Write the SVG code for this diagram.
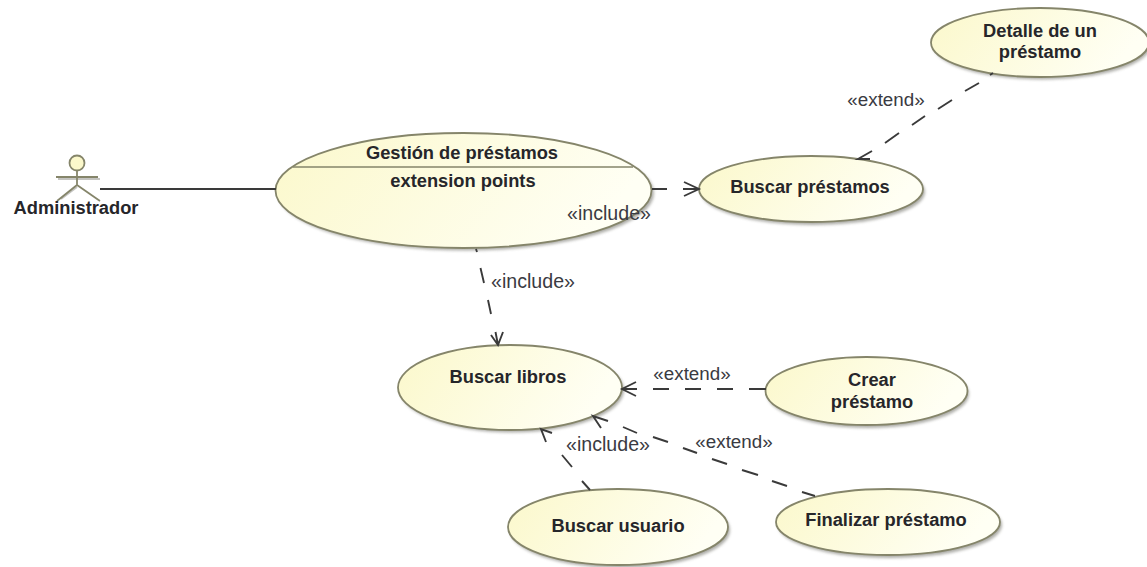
<svg xmlns="http://www.w3.org/2000/svg" width="1147" height="567" viewBox="0 0 1147 567">
<style>
.u{fill:url(#g);stroke:#85856a;stroke-width:1.8}
.s{fill:#77776f;opacity:.6;filter:url(#b)}
.c{fill:none;stroke:#3a3a3a;stroke-width:1.9}
.t{font-family:"Liberation Sans",Arial,sans-serif;font-size:18.3px;font-weight:bold;fill:#26262a;text-anchor:middle}
.i{font-family:"Liberation Sans",Arial,sans-serif;font-size:19.6px;fill:#3a3a42;text-anchor:middle}
.e{font-family:"Liberation Sans",Arial,sans-serif;font-size:18.8px;fill:#3a3a42;text-anchor:middle}
</style>
<defs>
<linearGradient id="g" x1="0" y1="0" x2="1" y2="0.25"><stop offset="0" stop-color="#fbf8cb"/><stop offset="1" stop-color="#fffff4"/></linearGradient>
<filter id="b" x="-10%" y="-10%" width="120%" height="130%"><feGaussianBlur stdDeviation="1.5"/></filter>
</defs>
<rect width="1147" height="567" fill="#fff"/>
<g id="actor">
<path d="M58 179H100M61 199L77 187" fill="none" stroke="#c4c4c0" stroke-width="2"/>
<circle cx="77" cy="163" r="7.5" fill="#fbf8cb" stroke="#85856a" stroke-width="1.8"/>
<path d="M56 177H98M77 170.500V185M77 185L57 201M77 185L100 201" fill="none" stroke="#85856a" stroke-width="1.8"/>
<text x="76" y="214" class="t">Administrador</text>
</g>
<g id="gestion">
<ellipse class="s" cx="466" cy="193" rx="188" ry="57.500"/>
<ellipse class="u" cx="463.500" cy="190.500" rx="188" ry="57.500"/>
<path d="M293 167H633" stroke="#85856a" stroke-width="1.6"/>
<text x="462" y="159" class="t">Gestión de préstamos</text>
<text x="463" y="187" class="t">extension points</text>
</g>
<g id="buscar-prestamos">
<ellipse class="s" cx="813" cy="192" rx="112" ry="33"/>
<ellipse class="u" cx="811" cy="189" rx="112" ry="33"/>
<text x="810" y="193" class="t">Buscar préstamos</text>
</g>
<g id="detalle">
<ellipse class="s" cx="1042" cy="45" rx="109" ry="34.500"/>
<ellipse class="u" cx="1040" cy="42.500" rx="109" ry="34.500"/>
<text x="1040" y="37" class="t">Detalle de un</text>
<text x="1040" y="58" class="t">préstamo</text>
</g>
<g id="buscar-libros">
<ellipse class="s" cx="512" cy="390" rx="112" ry="42.500"/>
<ellipse class="u" cx="510" cy="387.500" rx="112" ry="42.500"/>
<text x="508" y="383" class="t">Buscar libros</text>
</g>
<g id="crear">
<ellipse class="s" cx="868" cy="394" rx="101" ry="34"/>
<ellipse class="u" cx="866.500" cy="391" rx="101" ry="34"/>
<text x="872" y="386" class="t">Crear</text>
<text x="872" y="408" class="t">préstamo</text>
</g>
<g id="buscar-usuario">
<ellipse class="s" cx="620" cy="530" rx="110" ry="38"/>
<ellipse class="u" cx="618" cy="527" rx="110" ry="38"/>
<text x="618" y="532" class="t">Buscar usuario</text>
</g>
<g id="finalizar">
<ellipse class="s" cx="890" cy="525" rx="112" ry="33"/>
<ellipse class="u" cx="888" cy="522" rx="112" ry="33"/>
<text x="886" y="526" class="t">Finalizar préstamo</text>
</g>
<g id="connectors">
<path class="c" d="M100 189H276"/>
<path class="c" d="M652 189H667M683 189H699M684 182L699 189L684 196"/>
<path class="c" d="M993 73L990 75M979 83L965 91M952 100L938 109M925 116L912 125M899 133L885 143M872 151L858 159L870 159"/>
<path class="c" d="M476 249L477 252M480.500 268L484 283M488 300L491 314M491 335L498 345L503 332M495.500 332L498 345"/>
<path class="c" d="M766 389H749M733 389H717M701 389H685M669 389H653M636 382L622 389L636 396M637 389H622"/>
<path class="c" d="M815 496L802 492M787 486L772 481M758 475L742 470M727 464L712 459M697 453L683 448M668 442L653 437M637 433L623 427M608 421L593 416L601 428"/>
<path class="c" d="M590 490L582 481M572 467L562 455M552 433L541 429L546 442"/>
</g>
<g id="labels">
<text x="609" y="220" class="i">«include»</text>
<text x="533" y="288" class="i">«include»</text>
<text x="886" y="106" class="e">«extend»</text>
<text x="692" y="380" class="e">«extend»</text>
<text x="734" y="448" class="e">«extend»</text>
<text x="608" y="451" class="i">«include»</text>
</g>
</svg>
